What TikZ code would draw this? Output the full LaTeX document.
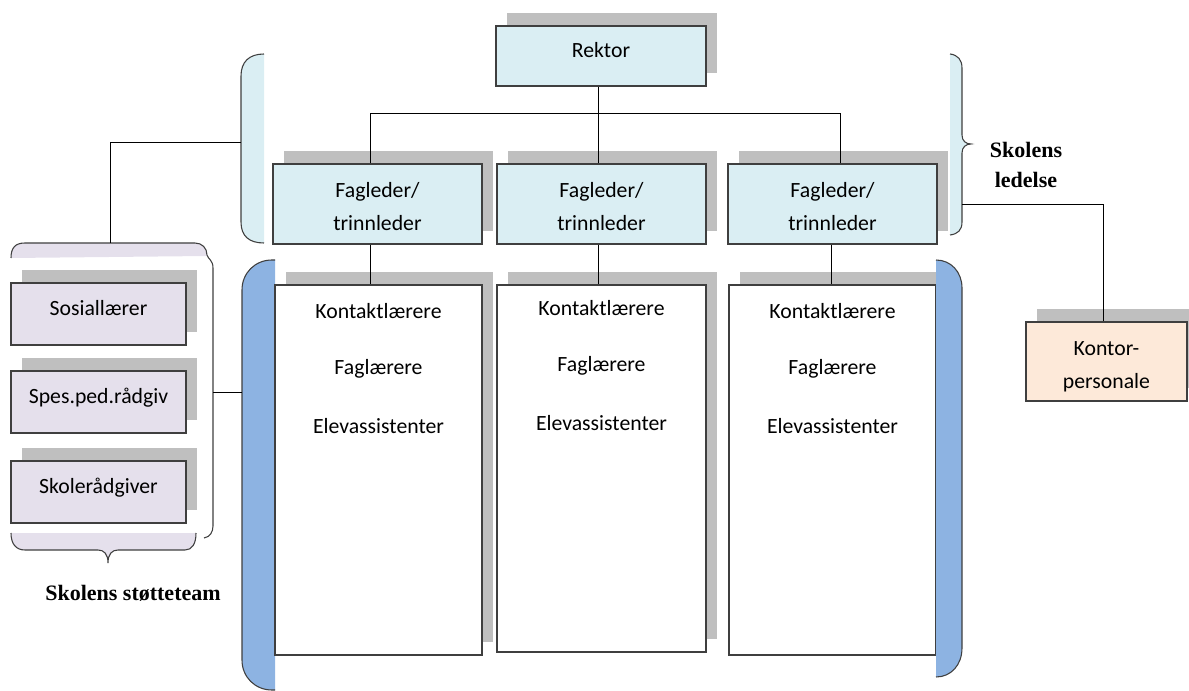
\documentclass[tikz,border=0pt]{standalone}
\usepackage{fontspec}
\setmainfont{Carlito}
\newfontfamily\tnr{Liberation Serif}
\usetikzlibrary{calc,shadows}
\definecolor{lblue}{HTML}{DAEEF3}
\definecolor{lav}{HTML}{E5E0EC}
\definecolor{peach}{HTML}{FDE9D9}
\definecolor{mblue}{HTML}{8DB3E2}
\definecolor{shade}{HTML}{BFBFBF}
\definecolor{edge}{HTML}{3F3F3F}
\tikzset{
  sh/.style={general shadow={fill=shade, draw=none, shadow xshift=8.25pt, shadow yshift=9.75pt}},
  box/.style={draw=edge, line width=0.9pt, inner sep=0pt, align=center,
    font=\fontsize{16.3}{24.75}\selectfont, sh},
  bluebox/.style={box, fill=lblue},
  lavbox/.style={box, fill=lav, minimum width=131.25pt, minimum height=46.5pt, text depth=9pt},
  whitebox/.style={box, fill=white, minimum width=155.25pt, minimum height=277.5pt},
  fagbox/.style={bluebox, minimum width=156.75pt, minimum height=60pt},
  wtext/.style={font=\fontsize{16.3}{20}\selectfont, inner sep=0pt},
  brace/.style={draw=edge, line width=0.8pt},
  conn/.style={draw=black, line width=0.75pt},
  lbl/.style={font=\tnr\bfseries\fontsize{16.5}{23}\selectfont, align=center, inner sep=0pt}
}
\begin{document}
\begin{tikzpicture}[x=0.75pt,y=-0.75pt]
\useasboundingbox (0,0) rectangle (1189,691);

% light-blue brace (left, leadership)
\fill[lblue] (264,54) .. controls (249,54) and (241,62) .. (241,76) -- (241,222) .. controls (241,236) and (249,243) .. (264,243) -- cycle;
\draw[brace] (264,54) .. controls (249,54) and (241,62) .. (241,76) -- (241,222) .. controls (241,236) and (249,243) .. (264,243);
\coordinate (lbr) at (241,143);

% light-blue brace (right, leadership)
\fill[lblue] (950,54) .. controls (958,55) and (962,60) .. (962,68) -- (962,135) .. controls (962,141) and (966,144) .. (971,144) .. controls (966,144) and (962,147) .. (962,153) -- (962,222) .. controls (962,230) and (958,234) .. (950,235) -- cycle;
\draw[brace] (950,54) .. controls (958,55) and (962,60) .. (962,68) -- (962,135) .. controls (962,141) and (966,144) .. (971,144) .. controls (966,144) and (962,147) .. (962,153) -- (962,222) .. controls (962,230) and (958,234) .. (950,235);
\coordinate (rbr) at (962,205);

% support team bracket
\fill[lav] (11,258) .. controls (11,248) and (15,243) .. (25,243) -- (195,243) .. controls (202,243) and (207,248) .. (207,256) -- cycle;
\draw[brace] (11,258) .. controls (11,248) and (15,243) .. (25,243) -- (195,243) .. controls (202,243) and (207,248) .. (207,255) .. controls (208,259) and (213,260) .. (213,268) -- (213,526) .. controls (213,532) and (210,537) .. (204,538);
\fill[lav] (11,533) .. controls (11,544) and (16,550) .. (25,550) -- (98,550) .. controls (104,550) and (108,554) .. (108,563) .. controls (108,554) and (112,550) .. (118,550) -- (185,550) .. controls (192,550) and (196,544) .. (196,533) -- cycle;
\draw[brace] (11,533) .. controls (11,544) and (16,550) .. (25,550) -- (98,550) .. controls (104,550) and (108,554) .. (108,563) .. controls (108,554) and (112,550) .. (118,550) -- (185,550) .. controls (192,550) and (196,544) .. (196,533);
\coordinate (sbr) at (213,393);
\coordinate (stop) at (110,243);

% left blue bracket
\fill[mblue] (275,260) -- (272,260) .. controls (255,260) and (242,273) .. (242,290) -- (242,660) .. controls (242,677) and (255,690) .. (272,690) -- (275,690) -- cycle;
\draw[brace] (275,260) -- (272,260) .. controls (255,260) and (242,273) .. (242,290) -- (242,660) .. controls (242,677) and (255,690) .. (272,690) -- (275,690);
\coordinate (bl) at (242,393);

% boxes
\node[bluebox, minimum width=157.5pt, minimum height=45pt, text depth=9pt] (rektor) at (601,56) {Rektor};
\node[fagbox] (f1) at (377.5,204) {\rule{0pt}{14.5pt}Fagleder/\\trinnleder};
\node[fagbox] (f2) at (601.5,204) {\rule{0pt}{14.5pt}Fagleder/\\trinnleder};
\node[fagbox] (f3) at (832.5,204) {\rule{0pt}{14.5pt}Fagleder/\\trinnleder};

\node[whitebox] (w1) at (378.5,470) {};
\node[whitebox, minimum width=156.75pt, minimum height=275.25pt] (w2) at (601.5,468.5) {};
\node[whitebox] (w3) at (832.5,470) {};

\foreach \w/\dy in {w1/0,w2/-3,w3/0}{
  \node[wtext] (\w a) at ($(\w.north)+(0,27+\dy)$) {Kontaktlærere};
  \node[wtext] (\w b) at ($(\w.north)+(0,84+\dy)$) {Faglærere};
  \node[wtext] (\w c) at ($(\w.north)+(0,142+\dy)$) {Elevassistenter};
}

\node[lavbox] (s1) at (98.5,314) {Sosiallærer};
\node[lavbox] (s2) at (98.5,402) {Spes.ped.rådgiv};
\node[lavbox] (s3) at (98.5,492) {Skolerådgiver};

\node[box, fill=peach, minimum width=120.75pt, minimum height=59.25pt] (kontor) at (1106.5,361.5) {\rule{0pt}{18pt}Kontor-\\personale};

% right blue bracket
\fill[mblue] (936,260) .. controls (951,260) and (962,272) .. (962,288) -- (962,648) .. controls (962,665) and (951,677) .. (936,677) -- cycle;
\draw[brace] (936,260) .. controls (951,260) and (962,272) .. (962,288) -- (962,648) .. controls (962,665) and (951,677) .. (936,677);

% labels
\node[lbl] (ledelse) at (1026,165) {Skolens\\ledelse};
\node[lbl] (stotte) at (133,593) {Skolens støtteteam};

% connectors
\draw[conn] ($(rektor.south)+(-3,0)$) coordinate (r0) -- (r0 |- 0,114) coordinate (hub);
\draw[conn] ($(f1.north)+(-7.5,0)$) coordinate (t1) |- (hub);
\draw[conn] ($(f3.north)+(7.5,0)$) coordinate (t3) |- (hub);
\draw[conn] ($(f2.north)+(-3.5,0)$) coordinate (t2) -- (t2 |- hub);
\draw[conn] ($(f1.south)+(-7.5,0)$) coordinate (u1) -- (u1 |- w1.north);
\draw[conn] ($(f2.south)+(-3.5,0)$) coordinate (u2) -- (u2 |- w2.north);
\draw[conn] ($(f3.south)+(-1.5,0)$) coordinate (u3) -- (u3 |- w3.north);
\draw[conn] (lbr) -| (stop);
\draw[conn] (rbr) -| ($(kontor.north)+(-3.5,0)$);
\draw[conn] (sbr) -- (bl);
\end{tikzpicture}
\end{document}
